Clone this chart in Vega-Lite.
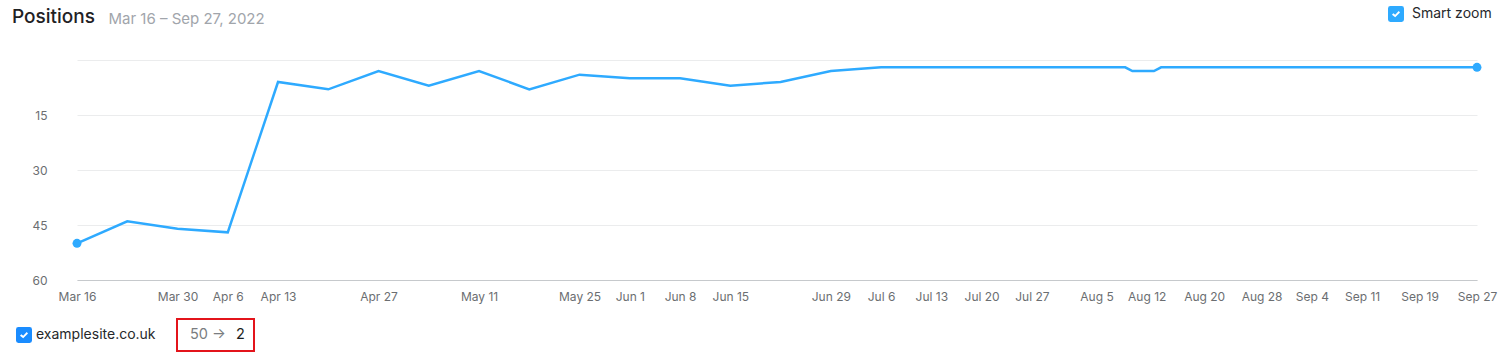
{
  "$schema": "https://vega.github.io/schema/vega-lite/v6.json",
  "width": 1400,
  "height": 220,
  "autosize": {"type": "none"},
  "padding": {"left": 77, "top": 60, "right": 33, "bottom": 76},
  "background": "white",
  "config": {"font": "Inter", "view": {"stroke": null}, "legend": {"strokeWidth": 2}},
  "title": {
    "text": "Positions",
    "anchor": "start",
    "frame": "group",
    "dx": -65,
    "dy": 21,
    "offset": 0,
    "fontSize": 19,
    "fontWeight": 500,
    "color": "#1f2124",
    "font": "Inter"
  },
  "data": {
    "values": [
      {"date": "2022-03-16", "position": 50, "site": "examplesite.co.uk"},
      {"date": "2022-03-23", "position": 44, "site": "examplesite.co.uk"},
      {"date": "2022-03-30", "position": 46, "site": "examplesite.co.uk"},
      {"date": "2022-04-06", "position": 47, "site": "examplesite.co.uk"},
      {"date": "2022-04-13", "position": 6, "site": "examplesite.co.uk"},
      {"date": "2022-04-20", "position": 8, "site": "examplesite.co.uk"},
      {"date": "2022-04-27", "position": 3, "site": "examplesite.co.uk"},
      {"date": "2022-05-04", "position": 7, "site": "examplesite.co.uk"},
      {"date": "2022-05-11", "position": 3, "site": "examplesite.co.uk"},
      {"date": "2022-05-18", "position": 8, "site": "examplesite.co.uk"},
      {"date": "2022-05-25", "position": 4, "site": "examplesite.co.uk"},
      {"date": "2022-06-01", "position": 5, "site": "examplesite.co.uk"},
      {"date": "2022-06-08", "position": 5, "site": "examplesite.co.uk"},
      {"date": "2022-06-15", "position": 7, "site": "examplesite.co.uk"},
      {"date": "2022-06-22", "position": 6, "site": "examplesite.co.uk"},
      {"date": "2022-06-29", "position": 3, "site": "examplesite.co.uk"},
      {"date": "2022-07-06", "position": 2, "site": "examplesite.co.uk"},
      {"date": "2022-07-13", "position": 2, "site": "examplesite.co.uk"},
      {"date": "2022-07-20", "position": 2, "site": "examplesite.co.uk"},
      {"date": "2022-07-27", "position": 2, "site": "examplesite.co.uk"},
      {"date": "2022-08-05", "position": 2, "site": "examplesite.co.uk"},
      {"date": "2022-08-09", "position": 2, "site": "examplesite.co.uk"},
      {"date": "2022-08-10", "position": 3, "site": "examplesite.co.uk"},
      {"date": "2022-08-13", "position": 3, "site": "examplesite.co.uk"},
      {"date": "2022-08-14", "position": 2, "site": "examplesite.co.uk"},
      {"date": "2022-08-20", "position": 2, "site": "examplesite.co.uk"},
      {"date": "2022-08-28", "position": 2, "site": "examplesite.co.uk"},
      {"date": "2022-09-04", "position": 2, "site": "examplesite.co.uk"},
      {"date": "2022-09-11", "position": 2, "site": "examplesite.co.uk"},
      {"date": "2022-09-19", "position": 2, "site": "examplesite.co.uk"},
      {"date": "2022-09-27", "position": 2, "site": "examplesite.co.uk"}
    ]
  },
  "layer": [
    {
      "mark": {"type": "line", "strokeWidth": 2.5, "strokeJoin": "miter"},
      "encoding": {
        "x": {
          "field": "date",
          "type": "temporal",
          "scale": {
            "type": "utc",
            "domain": [
              {"year": 2022, "month": 3, "date": 16, "utc": true},
              {"year": 2022, "month": 9, "date": 27, "utc": true}
            ]
          },
          "axis": {
            "values": [
              {"year": 2022, "month": 3, "date": 16, "utc": true},
              {"year": 2022, "month": 3, "date": 30, "utc": true},
              {"year": 2022, "month": 4, "date": 6, "utc": true},
              {"year": 2022, "month": 4, "date": 13, "utc": true},
              {"year": 2022, "month": 4, "date": 27, "utc": true},
              {"year": 2022, "month": 5, "date": 11, "utc": true},
              {"year": 2022, "month": 5, "date": 25, "utc": true},
              {"year": 2022, "month": 6, "date": 1, "utc": true},
              {"year": 2022, "month": 6, "date": 8, "utc": true},
              {"year": 2022, "month": 6, "date": 15, "utc": true},
              {"year": 2022, "month": 6, "date": 29, "utc": true},
              {"year": 2022, "month": 7, "date": 6, "utc": true},
              {"year": 2022, "month": 7, "date": 13, "utc": true},
              {"year": 2022, "month": 7, "date": 20, "utc": true},
              {"year": 2022, "month": 7, "date": 27, "utc": true},
              {"year": 2022, "month": 8, "date": 5, "utc": true},
              {"year": 2022, "month": 8, "date": 12, "utc": true},
              {"year": 2022, "month": 8, "date": 20, "utc": true},
              {"year": 2022, "month": 8, "date": 28, "utc": true},
              {"year": 2022, "month": 9, "date": 4, "utc": true},
              {"year": 2022, "month": 9, "date": 11, "utc": true},
              {"year": 2022, "month": 9, "date": 19, "utc": true},
              {"year": 2022, "month": 9, "date": 27, "utc": true}
            ],
            "labelExpr": "utcFormat(datum.value, '%b %-d')",
            "grid": false,
            "ticks": false,
            "domain": true,
            "domainColor": "#c6c9cc",
            "domainWidth": 1,
            "labelPadding": 11,
            "labelFontSize": 12,
            "labelColor": "#6b6e71",
            "labelFont": "Inter",
            "labelOverlap": false,
            "labelFlush": false,
            "title": null
          }
        },
        "y": {
          "field": "position",
          "type": "quantitative",
          "scale": {"domain": [0, 60], "reverse": true, "nice": false, "zero": false},
          "axis": {
            "values": [0, 15, 30, 45, 60],
            "labelExpr": "datum.value == 0 ? '' : datum.label",
            "grid": true,
            "gridColor": "#ebeced",
            "gridWidth": 1,
            "domain": false,
            "ticks": false,
            "labelPadding": 30,
            "labelFontSize": 12,
            "labelColor": "#6b6e71",
            "labelFont": "Inter",
            "title": "Mar 16 – Sep 27, 2022",
            "titleAngle": 0,
            "titleAlign": "left",
            "titleBaseline": "alphabetic",
            "titleX": 31,
            "titleY": -37,
            "titleFontSize": 15,
            "titleFontWeight": "normal",
            "titleColor": "#a1a5ab",
            "titleFont": "Inter"
          }
        },
        "color": {
          "field": "site",
          "type": "nominal",
          "scale": {"range": ["#2eaaff"]},
          "legend": {
            "orient": "none",
            "legendX": -61,
            "legendY": 267,
            "direction": "horizontal",
            "title": null,
            "padding": 0,
            "symbolType": "M-0.7,-1H0.7Q1,-1,1,-0.7V0.7Q1,1,0.7,1H-0.7Q-1,1,-1,0.7V-0.7Q-1,-1,-0.7,-1ZM-0.34,-0.08L-0.5,0.08L-0.1,0.42L0.5,-0.2L0.34,-0.36L-0.1,0.1Z",
            "symbolSize": 256,
            "symbolStrokeWidth": 0,
            "symbolOpacity": 1,
            "labelFontSize": 14,
            "labelColor": "#26282b",
            "labelFont": "Inter",
            "labelOffset": 4,
            "encode": {
              "symbols": {"update": {"fill": {"value": "#1a8cff"}, "stroke": {"value": "transparent"}, "opacity": {"value": 1}}}
            }
          }
        }
      }
    },
    {
      "transform": [
        {"filter": {"field": "date", "oneOf": [
          {"year": 2022, "month": 3, "date": 16, "utc": true},
          {"year": 2022, "month": 9, "date": 27, "utc": true}
        ]}}
      ],
      "mark": {"type": "point", "filled": true, "size": 80, "opacity": 1},
      "encoding": {
        "x": {"field": "date", "type": "temporal"},
        "y": {"field": "position", "type": "quantitative"},
        "fill": {
          "datum": "Smart zoom",
          "scale": {"range": ["#2eaaff"]},
          "legend": {
            "orient": "none",
            "legendX": 1311,
            "legendY": -54,
            "title": null,
            "padding": 0,
            "symbolType": "M-0.7,-1H0.7Q1,-1,1,-0.7V0.7Q1,1,0.7,1H-0.7Q-1,1,-1,0.7V-0.7Q-1,-1,-0.7,-1ZM-0.34,-0.08L-0.5,0.08L-0.1,0.42L0.5,-0.2L0.34,-0.36L-0.1,0.1Z",
            "symbolSize": 256,
            "symbolStrokeWidth": 0,
            "symbolOpacity": 1,
            "labelFontSize": 14,
            "labelColor": "#26282b",
            "labelFont": "Inter",
            "labelOffset": 8,
            "encode": {
              "symbols": {"update": {"fill": {"value": "#1a8cff"}, "stroke": {"value": "transparent"}, "opacity": {"value": 1}}}
            }
          }
        },
        "shape": {
          "datum": "2",
          "scale": {"domain": ["50 →", "2"], "range": ["circle", "circle"]},
          "legend": {
            "orient": "none",
            "legendX": 100,
            "legendY": 259,
            "direction": "horizontal",
            "title": null,
            "padding": 9,
            "strokeColor": "#e3141b",
            "symbolSize": 0,
            "symbolOpacity": 0,
            "symbolStrokeWidth": 0,
            "labelOffset": -10.5,
            "columnPadding": 6,
            "labelFontSize": 14.5,
            "labelFont": "Inter",
            "labelColor": {"expr": "datum.value == '2' ? '#1c1e20' : '#7a7d80'"},
            "labelExpr": "datum.value == '2' ? '2\u00a0' : datum.label"
          }
        }
      }
    }
  ]
}
